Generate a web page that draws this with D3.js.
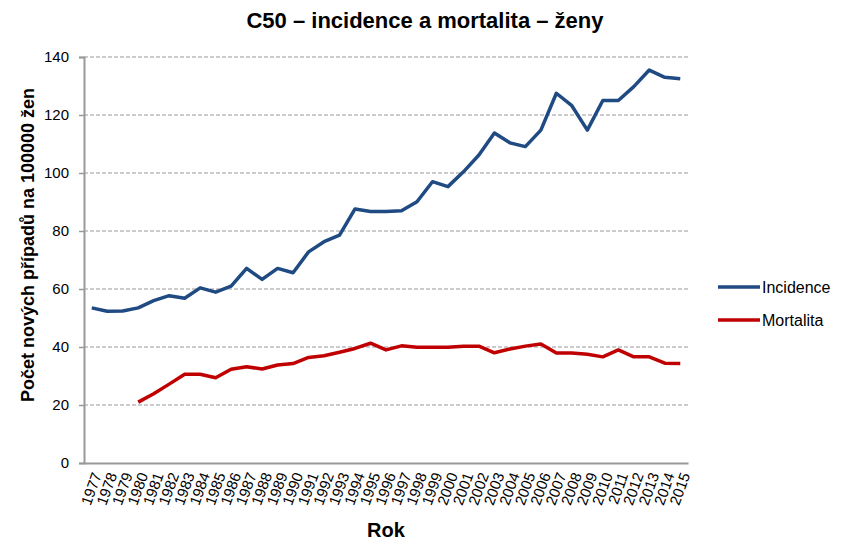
<!DOCTYPE html>
<html>
<head>
<meta charset="utf-8">
<script src="https://cdn.jsdelivr.net/npm/d3@7"></script>
<style>
  body { margin: 0; background: #fff; }
  text { font-family: Arial, "Liberation Sans", sans-serif; }
</style>
</head>
<body>
<script>
const years = d3.range(1977, 2016).map(String);

const incidence = [53.5, 52.3, 52.4, 53.5, 56, 57.7, 56.8, 60.4, 58.9, 61, 67.1, 63.3, 67.1, 65.6,
    72.8, 76.3, 78.6, 87.6, 86.7, 86.7, 87, 90.1, 97, 95.3, 100.4, 106.2, 113.8, 110.4, 109.1,
    114.8, 127.5, 123.2, 114.8, 125, 125, 129.8, 135.5, 133, 132.5];

// mortalita od roku 1980
const mortalita = [null, null, null, 21, 23.9, 27.2, 30.6, 30.6, 29.4, 32.3, 33.2, 32.4, 33.8, 34.3,
    36.4, 37, 38.2, 39.5, 41.3, 39, 40.4, 39.9, 39.9, 39.9, 40.3, 40.3, 38, 39.3, 40.3, 41,
    37.9, 37.9, 37.5, 36.6, 39, 36.6, 36.6, 34.4, 34.3];

const yTicks = [0, 20, 40, 60, 80, 100, 120, 140];

const series = [
    { name: 'Incidence', values: incidence, color: '#1f4a82' },
    { name: 'Mortalita', values: mortalita, color: '#c00000' },
];

const W = 850, H = 541;
const margin = { top: 57, right: 162, bottom: 78, left: 84 };
const width = W - margin.left - margin.right;
const height = H - margin.top - margin.bottom;

const svg = d3.select('body').append('svg')
    .attr('width', W)
    .attr('height', H);

const g = svg.append('g')
    .attr('transform', `translate(${margin.left},${margin.top})`);

const x = d3.scaleBand().domain(years).range([0, width]);
const y = d3.scaleLinear().domain([0, 140]).range([height, 0]);

// mřížka
g.append('g')
    .selectAll('line')
    .data(yTicks.filter(d => d > 0))
    .enter().append('line')
    .attr('x1', 0)
    .attr('x2', width)
    .attr('y1', d => y(d))
    .attr('y2', d => y(d))
    .attr('stroke', '#999')
    .attr('stroke-width', 1.2)
    .attr('stroke-dasharray', '4,2');

// osa y
const yAxis = g.append('g')
    .call(d3.axisLeft(y).tickValues(yTicks).tickSize(5).tickPadding(10));
yAxis.select('.domain').attr('stroke', '#999').attr('stroke-width', 2);
yAxis.selectAll('.tick line').attr('stroke', '#999').attr('stroke-width', 1.5);
yAxis.selectAll('.tick text')
    .attr('font-size', 15)
    .attr('fill', '#000');

// osa x
const xAxis = g.append('g')
    .attr('transform', `translate(0,${height})`)
    .call(d3.axisBottom(x).tickSize(0).tickPadding(0));
xAxis.select('.domain').attr('stroke', '#999').attr('stroke-width', 2);
xAxis.selectAll('.tick text')
    .attr('font-size', 15)
    .attr('fill', '#000')
    .attr('text-anchor', 'end')
    .attr('dy', null)
    .attr('transform', 'translate(5,10) rotate(-70)')
    .attr('dominant-baseline', 'central');

const line = d3.line()
    .defined(d => d !== null)
    .x((d, i) => x(years[i]) + x.bandwidth() / 2)
    .y(d => y(d));

g.selectAll('.series')
    .data(series)
    .enter().append('path')
    .attr('class', 'series')
    .attr('fill', 'none')
    .attr('stroke', d => d.color)
    .attr('stroke-width', 3.5)
    .attr('stroke-linejoin', 'round')
    .attr('d', d => line(d.values));

// titulek a popisky os
svg.append('text')
    .attr('x', 425)
    .attr('y', 28)
    .attr('text-anchor', 'middle')
    .attr('font-size', 22)
    .attr('font-weight', 'bold')
    .text('C50 – incidence a mortalita – ženy');

svg.append('text')
    .attr('transform', 'translate(34,245) rotate(-90)')
    .attr('text-anchor', 'middle')
    .attr('font-size', 18)
    .attr('font-weight', 'bold')
    .text('Počet nových případů na 100000 žen');

svg.append('text')
    .attr('x', 386)
    .attr('y', 537)
    .attr('text-anchor', 'middle')
    .attr('font-size', 20)
    .attr('font-weight', 'bold')
    .text('Rok');

// legenda
const legend = svg.append('g')
    .selectAll('g')
    .data(series)
    .enter().append('g')
    .attr('transform', (d, i) => `translate(718,${287 + i * 33})`);

legend.append('line')
    .attr('x1', 0)
    .attr('x2', 42)
    .attr('stroke', d => d.color)
    .attr('stroke-width', 3.5);

legend.append('text')
    .attr('x', 44)
    .attr('dy', '0.35em')
    .attr('font-size', 16)
    .text(d => d.name);
</script>
</body>
</html>
